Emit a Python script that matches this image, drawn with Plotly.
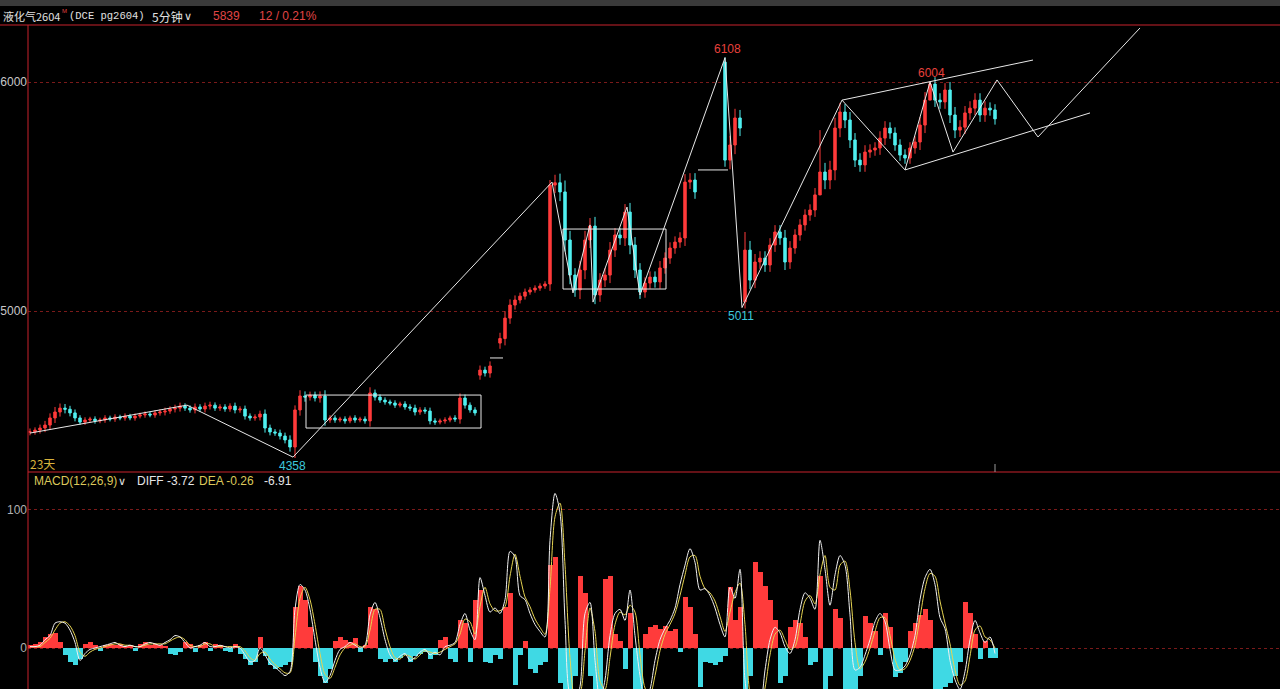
import plotly.graph_objects as go

# ---------------- data ----------------
closes = [
    4472, 4480, 4489, 4502, 4533, 4559, 4576, 4571, 4555, 4533,
    4515, 4524, 4528, 4520, 4524, 4533, 4528, 4537, 4533, 4541,
    4533, 4541, 4546, 4550, 4546, 4555, 4559, 4563, 4572, 4576,
    4585, 4576, 4568, 4581, 4572, 4585, 4589, 4576, 4581, 4572,
    4585, 4568, 4572, 4541, 4533, 4537, 4550, 4489, 4472, 4467,
    4454, 4437, 4406, 4568, 4629, 4624, 4633, 4620, 4629, 4524,
    4533, 4524, 4528, 4520, 4533, 4524, 4528, 4520, 4642, 4624,
    4611, 4603, 4598, 4589, 4594, 4581, 4576, 4559, 4568, 4563,
    4520, 4515, 4520, 4524, 4533, 4528, 4620, 4589, 4568, 4555,
    4742, 4729, 4760, None, 4880, 4969, 5026, 5048, 5065, 5083,
    5092, 5100, 5109, 5118, 5550, 5560, 5520, 5310, 5157, 5092,
    5179, 5310, 5371, 5070, 5135, 5157, 5266, 5332, 5319, 5432,
    5288, 5179, 5083, 5122, 5148, 5127, 5188, 5231, 5275, 5301,
    5319, 5563, 5572, 5520, None, None, None, None, None, 5659,
    5725, 5843, 5799, 5266, 5135, 5214, 5231, 5201, 5288, 5345,
    5319, 5214, 5275, 5332, 5376, 5419, 5441, 5507, 5607, 5572,
    5616, 5799, 5869, 5834, 5747, 5659, 5638, 5694, 5703, 5712,
    5755, 5799, 5777, 5725, 5681, 5668, 5712, 5738, 5812, 5921,
    5991, 5921, 5913, 5965, 5856, 5790, 5803, 5865, 5886, 5921,
    5856, 5886, 5878, 5839,
]
# shadow length beyond the body, read per bar (price units)
shadow = [
    15, 12, 15, 18, 20, 22, 20, 18, 15, 15,
    12, 12, 10, 12, 10, 12, 10, 12, 10, 12,
    10, 12, 10, 12, 10, 12, 12, 15, 12, 15,
    15, 12, 12, 15, 12, 15, 15, 12, 12, 12,
    12, 15, 12, 15, 12, 12, 15, 20, 15, 12,
    15, 15, 20, 20, 25, 20, 15, 15, 20, 25,
    12, 12, 10, 12, 10, 12, 10, 12, 25, 15,
    12, 12, 10, 12, 10, 12, 12, 15, 12, 12,
    15, 12, 10, 12, 10, 12, 20, 15, 12, 12,
    20, 15, 20, 0, 25, 30, 25, 20, 15, 15,
    12, 12, 12, 12, 30, 35, 40, 50, 40, 30,
    40, 40, 35, 40, 30, 30, 35, 30, 30, 35,
    40, 35, 30, 25, 25, 25, 30, 25, 25, 25,
    25, 35, 30, 30, 0, 0, 0, 0, 0, 0,
    40, 40, 35, 0, 40, 35, 30, 30, 30, 30,
    30, 35, 30, 25, 25, 25, 25, 30, 0, 40,
    40, 45, 40, 35, 35, 30, 30, 30, 25, 25,
    30, 30, 25, 25, 25, 25, 25, 25, 35, 35,
    0, 30, 30, 30, 35, 35, 30, 30, 30, 30,
    30, 30, 25, 25,
]
gap_opens = {90: 4720, 94: 4860, 139: 6087, 143: 5040}
wick_highs = {104: 5572, 139: 6108, 143: 5345, 158: 5790, 180: 6004}
wick_lows = {53: 4358, 139: 5630, 143: 5011}

diff = [
    1, 1, 2, 6, 9, 18, 19, 18, 13, 4,
    -9, -4, -1, 0, 1, 2, 3, 4, 2, 1,
    2, 1, 1, 3, 4, 3, 2, 4, 6, 9,
    8, 4, 0, 1, 2, 4, 1, 1, 2, 1,
    0, 1, 0, -5, -10, -9, 0, -5, -11, -14,
    -17, -20, -17, 28, 46, 42, 28, 6, -14, -25,
    -20, -9, -1, 1, 4, 2, 0, 2, 24, 33,
    22, 6, -5, -9, -6, -4, -9, -7, -3, -1,
    -5, -3, -5, 1, 2, 4, 17, 25, 13, 6,
    51, 38, 26, 29, 25, 35, 70, 66, 38, 35,
    25, 17, 12, 8, 78, 112, 98, 20, -34, -38,
    -28, 25, 33, -9, -38, -23, 9, 25, 28, 20,
    42, 9, -20, -38, -30, -9, 6, 14, 20, 29,
    46, 60, 72, 62, 42, 43, 38, 29, 17, 8,
    44, 36, 57, -23, -43, -43, -41, -16, 6, 15,
    11, 1, -4, 6, 28, 40, 36, 28, 78, 57,
    31, 53, 67, 60, 24, -16, -14, -5, 6, 19,
    25, 19, -1, -16, -16, -13, -5, 9, 35, 51,
    57, 46, 22, 14, -9, -23, -30, -17, 6, 20,
    11, 4, 8, -4,
]
dea = [
    1, 1, 1, 4, 7, 13, 18, 19, 16, 9,
    -3, -6, -3, -1, 0, 1, 2, 3, 3, 2,
    2, 1, 1, 2, 3, 3, 3, 3, 5, 7,
    8, 6, 2, 1, 1, 3, 3, 1, 1, 1,
    1, 1, 1, -2, -7, -9, -4, -3, -8, -12,
    -15, -18, -18, 8, 36, 44, 35, 17, -4, -19,
    -22, -14, -5, 0, 2, 3, 1, 1, 13, 28,
    28, 14, 1, -7, -8, -5, -6, -8, -5, -2,
    -3, -4, -3, -1, 1, 3, 10, 21, 19, 10,
    30, 44, 32, 27, 27, 30, 52, 68, 52, 37,
    30, 21, 15, 10, 43, 95, 105, 60, -7, -36,
    -33, -2, 29, 12, -24, -30, -7, 17, 26, 24,
    31, 26, -5, -29, -34, -20, -2, 10, 17, 25,
    38, 53, 66, 67, 52, 43, 40, 34, 23, 12,
    26, 40, 47, 17, -33, -43, -42, -29, -5, 10,
    13, 6, -1, 1, 17, 34, 38, 32, 53, 67,
    44, 42, 60, 63, 42, 4, -15, -10, 0, 12,
    22, 22, 9, -8, -16, -15, -9, 2, 22, 43,
    54, 52, 34, 18, 3, -16, -27, -24, -6, 13,
    16, 8, 6, 0,
]
macd_hist = [
    2, 3, 4, 8, 10, 11, 4, -5, -10, -12,
    -8, 3, 4, 2, -2, 2, 3, 2, 3, 1,
    2, -2, 3, 4, 2, 3, 2, 1, -4, -5,
    -3, 4, 3, -3, 2, 4, -2, 3, 2, -2,
    -3, 3, -4, -8, -12, -10, 8, -6, -12, -15,
    -14, -12, -10, 30, 45, 35, 15, -10, -20, -25,
    -15, 5, 8, 6, 4, 7, -3, 2, 30, 28,
    -8, -10, -8, -10, -7, -5, -10, -6, -4, -3,
    -8, -5, 6, 8, -8, -10, 20, 18, -10, 35,
    42, -10, -11, -5, -8, 30, 40, -27, -5, 5,
    -15, -18, -12, -10, 60, 66, -25, -30, -30, -20,
    52, 40, -20, -30, -30, 50, 52, 10, 5, -15,
    25, -30, -30, 10, 15, 17, 14, 16, 12, 14,
    -3, 37, 30, 10, -28, -10, -11, -12, -10, -6,
    44, 20, 30, -30, -20, 62, 55, 45, 35, 20,
    -25, -20, 15, 20, 18, 8, -12, -10, 52, -30,
    -20, 28, 22, -30, -30, -30, -20, 23, 18, 12,
    -5, 25, 15, -21, -18, -10, 12, 18, 24, 28,
    20, -30, -30, -28, -25, -20, -10, 33, 25, 10,
    -8, 5, -7, -7,
]

# hand-drawn analysis lines (bar index, price)
zigzag_x = [52.6, 104.4, 108.6, 112.0, 112.6, 119.4, 122.0, 139.0, 142.4, 162.4, 175.0, 180.0, 184.6, 193.4, 201.6, 222.0]
zigzag_y = [4362, 5563, 5079, 5376, 5039, 5454, 5070, 6106, 5015, 5921, 5616, 6000, 5694, 6009, 5760, 6236]
early_x = [0.0, 31.4, 52.6]
early_y = [4467, 4589, 4362]
upper_ch_x = [162.4, 200.6]
upper_ch_y = [5921, 6096]
lower_ch_x = [175.0, 212.0]
lower_ch_y = [5616, 5865]
flat1_x = [92.0, 94.6]
flat1_y = [4795, 4795]
flat2_x = [133.6, 139.6]
flat2_y = [5616, 5616]
box1 = (55.2, 4489, 90.2, 4633)
box2 = (106.6, 5096, 127.2, 5358)

price_labels = [("6108", 139.4, 6144, "#e8413c"), ("5011", 142.2, 4978, "#3cc8dc"),
                ("4358", 52.4, 4323, "#3cc8dc"), ("6004", 180.2, 6039, "#e8413c")]

# ---------------- build OHLC ----------------
n = len(closes)
idx = list(range(n))
opens, highs, lows = [], [], []
prev = None
for i, c in enumerate(closes):
    if c is None:
        opens.append(None); highs.append(None); lows.append(None)
        continue
    o = gap_opens.get(i, prev if prev is not None else c)
    opens.append(o)
    highs.append(wick_highs.get(i, max(o, c) + shadow[i]))
    lows.append(wick_lows.get(i, min(o, c) - shadow[i]))
    prev = c

W, H = 1280, 689
ML, MT = 28, 25
def px(X):
    return (X - ML) / (W - ML)
def py(Y):
    return (H - Y) / (H - MT)

SPLIT = py(472)
RED = "#c8232c"
UP = "#ff3b3b"
DOWN = "#50f0f0"
GRID = "#7a1a1a"
NUMFONT = "Liberation Sans, Arial, sans-serif"
CJK = "Noto Sans CJK SC, sans-serif"

fig = go.Figure()

fig.add_trace(go.Candlestick(
    x=idx, open=opens, high=highs, low=lows, close=closes,
    increasing=dict(line=dict(color=UP, width=1), fillcolor=UP),
    decreasing=dict(line=dict(color=DOWN, width=1), fillcolor=DOWN),
    whiskerwidth=0, xaxis="x", yaxis="y", hoverinfo="skip", showlegend=False))

line_style = dict(color="#e8e8e8", width=1)
for lx, ly in [(early_x, early_y), (zigzag_x, zigzag_y), (upper_ch_x, upper_ch_y),
               (lower_ch_x, lower_ch_y), (flat1_x, flat1_y), (flat2_x, flat2_y)]:
    fig.add_trace(go.Scatter(x=lx, y=ly, mode="lines", line=line_style,
                             xaxis="x", yaxis="y", hoverinfo="skip", showlegend=False))

# MACD
fig.add_trace(go.Bar(x=idx, y=macd_hist, width=1,
                     marker=dict(color=[UP if v >= 0 else "#3fd9e4" for v in macd_hist], line=dict(width=0)),
                     xaxis="x2", yaxis="y2", hoverinfo="skip", showlegend=False))
fig.add_trace(go.Scatter(x=idx, y=dea, mode="lines", line=dict(color="#e6d452", width=1, shape="spline", smoothing=0.8),
                         xaxis="x2", yaxis="y2", hoverinfo="skip", showlegend=False))
fig.add_trace(go.Scatter(x=idx, y=diff, mode="lines", line=dict(color="#f0f0f0", width=1, shape="spline", smoothing=0.8),
                         xaxis="x2", yaxis="y2", hoverinfo="skip", showlegend=False))

shapes = []
for b in (box1, box2):
    shapes.append(dict(type="rect", xref="x", yref="y", x0=b[0], y0=b[1], x1=b[2], y1=b[3],
                       line=dict(color="#e8e8e8", width=1), fillcolor="rgba(0,0,0,0)"))
# frame
shapes.append(dict(type="rect", xref="paper", yref="paper", x0=px(0), x1=1, y0=py(6), y1=py(0),
                   line=dict(width=0), fillcolor="#3a3a3a", layer="above"))
shapes.append(dict(type="line", xref="paper", yref="paper", x0=px(0), x1=1, y0=1, y1=1,
                   line=dict(color=RED, width=1)))
shapes.append(dict(type="line", xref="paper", yref="paper", x0=0, x1=0, y0=0, y1=1,
                   line=dict(color=RED, width=1)))
shapes.append(dict(type="line", xref="paper", yref="paper", x0=0, x1=1, y0=SPLIT, y1=SPLIT,
                   line=dict(color=RED, width=1)))
shapes.append(dict(type="line", xref="x", yref="paper", x0=193, x1=193, y0=SPLIT, y1=py(464),
                   line=dict(color="#9a9a9a", width=1)))

ann = []
for t, xx, yy, col in price_labels:
    ann.append(dict(text=t, x=xx, y=yy, xref="x", yref="y", showarrow=False,
                    font=dict(family=NUMFONT, size=12, color=col)))

def label(t, X, Y, color, size=12, family=CJK):
    ann.append(dict(text=t, x=px(X), y=py(Y), xref="paper", yref="paper", showarrow=False,
                    xanchor="left", yanchor="middle", font=dict(family=family, size=size, color=color)))

label("液化气2604", 1, 16, "#e0e0e0", 11)
label("M", 60, 11, "#e04040", 6, NUMFONT)
label("(DCE pg2604)", 67, 16, "#e0e0e0", 10.5, "Liberation Mono, monospace")
label("5分钟", 150, 16, "#e0e0e0", 12)
label("∨", 182, 16, "#e0e0e0", 11, NUMFONT)
label("5839", 211, 16, "#e04545", 12, NUMFONT)
label("12 / 0.21%", 257, 16, "#e04545", 12, NUMFONT)
label("23天", 28, 463, "#d8b23c", 12)
label("MACD(12,26,9)", 32, 481, "#dcc85a", 12, NUMFONT)
label("∨", 116, 481, "#e0e0e0", 11, NUMFONT)
label("DIFF -3.72", 135, 481, "#e6e6e6", 12, NUMFONT)
label("DEA -0.26", 197, 481, "#dcc85a", 12, NUMFONT)
label("-6.91", 262, 481, "#e6e6e6", 12, NUMFONT)

xr = [-0.4, 250]
fig.update_layout(
    width=W, height=H, autosize=False,
    margin=dict(l=ML, r=0, t=MT, b=0, pad=0),
    paper_bgcolor="#000000", plot_bgcolor="#000000",
    showlegend=False, hovermode=False,
    xaxis=dict(domain=[0, 1], range=xr, visible=False, anchor="y", rangeslider=dict(visible=False), fixedrange=True),
    xaxis2=dict(domain=[0, 1], range=xr, visible=False, anchor="y2", fixedrange=True),
    yaxis=dict(domain=[SPLIT, 1], range=[4297, 6249], tickvals=[5000, 6000], ticktext=["5000", "6000"],
               showgrid=True, gridcolor=GRID, griddash="dot", gridwidth=1, zeroline=False, showline=False,
               ticks="", tickfont=dict(family=NUMFONT, size=12, color="#c8c8c8"), anchor="x"),
    yaxis2=dict(domain=[0, SPLIT], range=[-29.7, 127.5], tickvals=[0, 100], ticktext=["0", "100"],
                showgrid=True, gridcolor=GRID, griddash="dot", gridwidth=1, zeroline=False, showline=False,
                ticks="", tickfont=dict(family=NUMFONT, size=12, color="#b0b0b0"), anchor="x2"),
    shapes=shapes, annotations=ann, bargap=0,
)

fig.write_html("out.html")
